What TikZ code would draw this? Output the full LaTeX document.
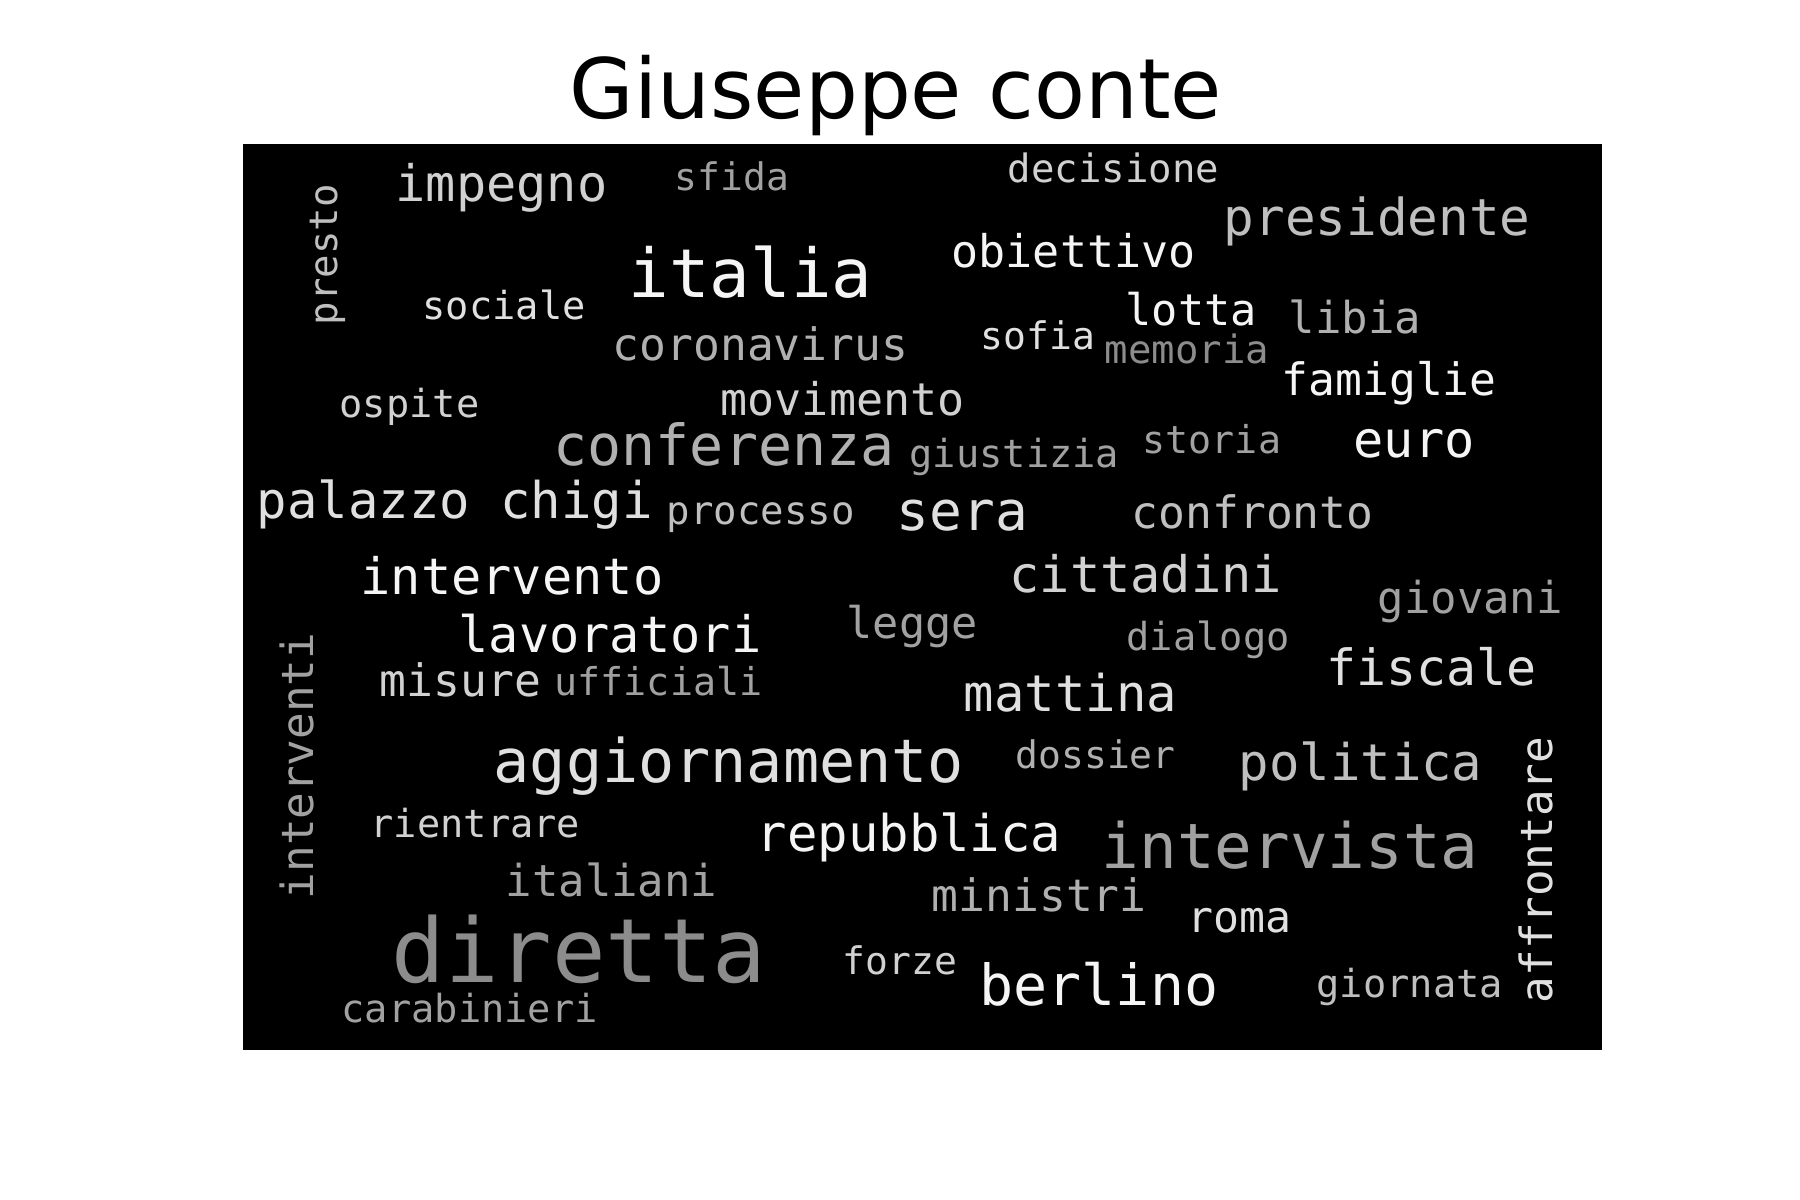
\documentclass[tikz,border=0pt]{standalone}
\usepackage{fontspec}
\setmainfont{DejaVu Sans}
\setmonofont{DejaVu Sans Mono}
\usepackage{tikz}

\definecolor{shadeA}{gray}{0.96}
\definecolor{shadeB}{gray}{0.88}
\definecolor{shadeC}{gray}{0.82}
\definecolor{shadeD}{gray}{0.75}
\definecolor{shadeE}{gray}{0.69}
\definecolor{shadeF}{gray}{0.63}
\definecolor{shadeG}{gray}{0.55}

\tikzset{
	cloudword/.style={anchor=base west, inner sep=0pt, font=\ttfamily\fontsize{#1}{#1}\selectfont},
	upword/.style={cloudword=#1, rotate=90}
}

\begin{document}
\begin{tikzpicture}[x=0.1mm, y=-0.1mm]
			\useasboundingbox (0,0) rectangle (1800,1200);
			\fill[white] (0,0) rectangle (1800,1200);
			\fill[black] (243,144) rectangle (1602,1050);
			\node[anchor=base, inner sep=0pt, font=\fontsize{23.7}{23.7}\selectfont] (title) at (896,119) {Giuseppe conte};
			\node[upword=11.1, text=shadeD] (presto) at (337,326) {presto};
			\node[cloudword=14.3, text=shadeC] (impegno) at (395,201) {impegno};
			\node[cloudword=10.8, text=shadeF] (sfida) at (674,191) {sfida};
			\node[cloudword=11.1, text=shadeC] (decisione) at (1007,183) {decisione};
			\node[cloudword=14.5, text=shadeD] (presidente) at (1223,236) {presidente};
			\node[cloudword=19.2, text=shadeA] (italia) at (628,298) {italia};
			\node[cloudword=12.8, text=shadeA] (obiettivo) at (951,267) {obiettivo};
			\node[cloudword=11.0, text=shadeB] (sociale) at (422,319) {sociale};
			\node[cloudword=12.4, text=shadeA] (lotta) at (1125,325) {lotta};
			\node[cloudword=12.5, text=shadeE] (libia) at (1288,333) {libia};
			\node[cloudword=12.7, text=shadeE] (coronavirus) at (612,360) {coronavirus};
			\node[cloudword=10.8, text=shadeB] (sofia) at (980,349) {sofia};
			\node[cloudword=11.1, text=shadeG] (memoria) at (1104,363) {memoria};
			\node[cloudword=12.7, text=shadeA] (famiglie) at (1281,395) {famiglie};
			\node[cloudword=11.0, text=shadeC] (ospite) at (339,417) {ospite};
			\node[cloudword=12.8, text=shadeC] (movimento) at (720,415) {movimento};
			\node[cloudword=16.1, text=shadeE] (conferenza) at (553,465) {conferenza};
			\node[cloudword=11.0, text=shadeF] (giustizia) at (909,467) {giustizia};
			\node[cloudword=10.9, text=shadeF] (storia) at (1142,453) {storia};
			\node[cloudword=14.3, text=shadeA] (euro) at (1353,457) {euro};
			\node[cloudword=14.4, text=shadeB] (palazzochigi) at (256,518) {palazzo chigi};
			\node[cloudword=11.1, text=shadeD] (processo) at (666,524) {processo};
			\node[cloudword=15.5, text=shadeB] (sera) at (896,530) {sera};
			\node[cloudword=12.7, text=shadeD] (confronto) at (1131,528) {confronto};
			\node[cloudword=14.3, text=shadeA] (intervento) at (360,594) {intervento};
			\node[cloudword=14.3, text=shadeC] (cittadini) at (1009,592) {cittadini};
			\node[cloudword=12.5, text=shadeF] (giovani) at (1377,613) {giovani};
			\node[cloudword=14.3, text=shadeA] (lavoratori) at (458,652) {lavoratori};
			\node[cloudword=12.4, text=shadeF] (legge) at (846,638) {legge};
			\node[cloudword=11.0, text=shadeF] (dialogo) at (1126,650) {dialogo};
			\node[cloudword=14.2, text=shadeB] (fiscale) at (1326,685) {fiscale};
			\node[upword=12.6, text=shadeF] (interventi) at (313,900) {interventi};
			\node[cloudword=12.7, text=shadeC] (misure) at (379,696) {misure};
			\node[cloudword=10.9, text=shadeF] (ufficiali) at (554,695) {ufficiali};
			\node[cloudword=14.4, text=shadeB] (mattina) at (963,711) {mattina};
			\node[cloudword=17.1, text=shadeB] (aggiornamento) at (493,782) {aggiornamento};
			\node[cloudword=10.8, text=shadeE] (dossier) at (1015,768) {dossier};
			\node[cloudword=14.4, text=shadeD] (politica) at (1238,780) {politica};
			\node[upword=12.6, text=shadeB] (affrontare) at (1552,1004) {affrontare};
			\node[cloudword=11.0, text=shadeC] (rientrare) at (370,837) {rientrare};
			\node[cloudword=14.4, text=shadeA] (repubblica) at (756,851) {repubblica};
			\node[cloudword=17.8, text=shadeF] (intervista) at (1101,868) {intervista};
			\node[cloudword=12.5, text=shadeF] (italiani) at (505,896) {italiani};
			\node[cloudword=12.7, text=shadeE] (ministri) at (931,911) {ministri};
			\node[cloudword=12.3, text=shadeB] (roma) at (1187,932) {roma};
			\node[cloudword=25.3, text=shadeG] (diretta) at (391,982) {diretta};
			\node[cloudword=10.8, text=shadeC] (forze) at (842,974) {forze};
			\node[cloudword=16.1, text=shadeA] (berlino) at (979,1005) {berlino};
			\node[cloudword=11.0, text=shadeD] (giornata) at (1316,997) {giornata};
			\node[cloudword=11.0, text=shadeF] (carabinieri) at (341,1022) {carabinieri};
		\end{tikzpicture}
\end{document}
